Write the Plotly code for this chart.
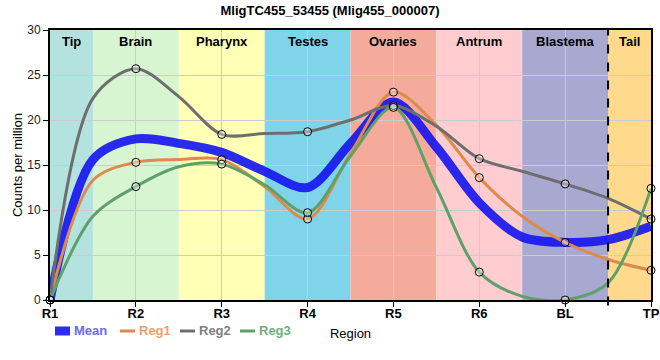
import plotly.graph_objects as go

# ---- data ----
regions = ["R1", "R2", "R3", "R4", "R5", "R6", "BL", "TP"]
mean_vals = [0, 17.9, 16.4, 12.5, 22.0, 10.8, 6.4, 8.2]
reg1_vals = [0, 15.3, 15.6, 9.0, 23.1, 13.6, 6.4, 3.3]
reg2_vals = [0, 25.7, 18.4, 18.7, 21.6, 15.7, 12.9, 9.0]
reg3_vals = [0, 12.6, 15.1, 9.7, 21.4, 3.1, 0.0, 12.4]

# curve values read midway between regions (at the tissue boundaries)
mean_mid = [15.6, 17.4, 14.3, 17.4, 17.0, 7.0, 6.7]
reg1_mid = [13.3, 15.6, 12.6, 16.3, 19.4, 9.3, 4.5]
reg2_mid = [22.4, 22.6, 18.5, 20.0, 19.3, 14.3, 11.3]
reg3_mid = [9.3, 14.8, 12.8, 16.0, 12.5, 0.4, 1.9]

tissues = ["Tip", "Brain", "Pharynx", "Testes", "Ovaries", "Antrum", "Blastema", "Tail"]
tissue_start = [0, 0.5, 1.5, 2.5, 3.5, 4.5, 5.5, 6.5]
tissue_end = [0.5, 1.5, 2.5, 3.5, 4.5, 5.5, 6.5, 7]
tissue_colors = ["#b4e2de", "#d7f5d1", "#ffffb6", "#80d4ea", "#f5ab9c",
                 "#ffcdd0", "#a8a8d0", "#ffda8c"]

series_names = ["Mean", "Reg1", "Reg2", "Reg3"]
line_colors = ["rgba(20,20,240,0.9)", "#dd8a4c", "#6e6e6e", "#5da16a"]
text_colors = ["#6a6aff", "#eea070", "#808080", "#70b07c"]
line_widths = [9, 3, 3, 3]

pos = list(range(len(regions)))


def curve(vals, mids):
    xs, ys = [], []
    for i, v in enumerate(vals):
        xs.append(i)
        ys.append(v)
        if i < len(mids):
            xs.append(i + 0.5)
            ys.append(mids[i])
    return xs, ys


fig = go.Figure()

all_vals = [mean_vals, reg1_vals, reg2_vals, reg3_vals]
all_mids = [mean_mid, reg1_mid, reg2_mid, reg3_mid]

for name, vals, mids, col, w in zip(series_names, all_vals, all_mids, line_colors, line_widths):
    cx, cy = curve(vals, mids)
    fig.add_trace(go.Scatter(x=cx, y=cy, mode="lines", name=name,
                             line=dict(color=col, width=w, shape="spline", smoothing=0.9),
                             showlegend=False, hoverinfo="skip"))

for name, vals in zip(series_names[1:], all_vals[1:]):
    fig.add_trace(go.Scatter(x=pos, y=vals, mode="markers", name=name, showlegend=False,
                             cliponaxis=False,
                             marker=dict(symbol="circle", size=8,
                                         color="rgba(255,255,255,0.35)",
                                         line=dict(color="black", width=1))))

shapes = []
for s, e, c in zip(tissue_start, tissue_end, tissue_colors):
    shapes.append(dict(type="rect", xref="x", yref="paper", x0=s, x1=e, y0=0, y1=1,
                       fillcolor=c, line=dict(width=0), layer="below"))
shapes.append(dict(type="line", xref="x", yref="paper", x0=6.5, x1=6.5, y0=-0.02, y1=1,
                   line=dict(color="black", width=2, dash="dash")))

annotations = []
for t, s, e in zip(tissues, tissue_start, tissue_end):
    annotations.append(dict(x=(s + e) / 2, y=1, xref="x", yref="paper", yanchor="top",
                            text="<b>" + t + "</b>", showarrow=False, yshift=-2,
                            font=dict(family="Arial, Liberation Sans", size=13, color="black")))

# manual legend (paper coords; plot area spans 601 x 270 px starting at x=50)
leg_sym_px = [55, 120, 180, 240]
leg_y = -31 / 270
for name, px, col, tcol, w in zip(series_names, leg_sym_px, line_colors, text_colors, line_widths):
    x0 = (px - 50) / 601
    x1 = (px + 15 - 50) / 601
    shapes.append(dict(type="line", xref="paper", yref="paper", x0=x0, x1=x1,
                       y0=leg_y, y1=leg_y, line=dict(color=col, width=w)))
    annotations.append(dict(x=(px + 18 - 50) / 601, y=leg_y, xref="paper", yref="paper",
                            xanchor="left", yanchor="middle", showarrow=False,
                            text="<b>" + name + "</b>", borderpad=0,
                            font=dict(family="Arial, Liberation Sans", size=13, color=tcol)))

fig.update_layout(
    width=660, height=360,
    margin=dict(l=50, r=9, t=30, b=60, autoexpand=False),
    paper_bgcolor="white", plot_bgcolor="white",
    title=dict(text="<b>MligTC455_53455 (Mlig455_000007)</b>", x=0.5,
               xref="container", y=1 - 10 / 360, yanchor="middle", xanchor="center",
               font=dict(family="Arial, Liberation Sans", size=13, color="black")),
    shapes=shapes, annotations=annotations,
    showlegend=False,
    font=dict(family="Arial, Liberation Sans"),
)

fig.update_xaxes(range=[0, 7], tickvals=pos, ticktext=["<b>" + r + "</b>" for r in regions],
                 tickfont=dict(size=13, color="black"), automargin=False,
                 ticklabelstandoff=-5,
                 showgrid=True, gridcolor="#cccccc", gridwidth=1,
                 ticks="outside", ticklen=5, tickcolor="black",
                 showline=True, linecolor="black", linewidth=2, mirror=True,
                 zeroline=False,
                 title=dict(text="Region", standoff=9,
                            font=dict(size=13, color="black")))
fig.update_yaxes(range=[0, 30], dtick=5, automargin=False,
                 tickfont=dict(size=12, color="#222222"),
                 showgrid=True, gridcolor="#cccccc", gridwidth=1,
                 ticks="outside", ticklen=5, tickcolor="black",
                 showline=True, linecolor="black", linewidth=2, mirror=True,
                 zeroline=False,
                 title=dict(text="Counts per million", standoff=2,
                            font=dict(size=13, color="black")))

# remove the default 8px page margin so the figure sits at the window's top-left corner
fig.write_html("out.html", config={"displayModeBar": False},
               post_script="document.body.style.margin='0px';")
